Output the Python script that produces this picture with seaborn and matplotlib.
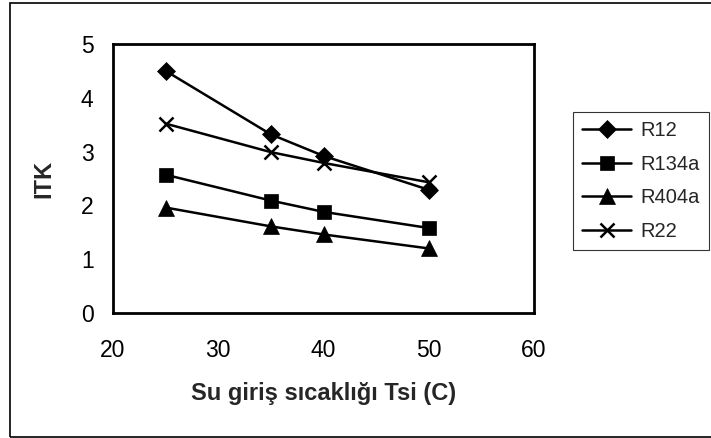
import matplotlib
matplotlib.use("Agg")
import matplotlib.pyplot as plt
import seaborn as sns
import pandas as pd
from matplotlib.patches import Rectangle

temps = [25, 35, 40, 50]
r12 = [4.50, 3.32, 2.92, 2.29]
r134a = [2.57, 2.09, 1.88, 1.58]
r404a = [1.96, 1.61, 1.46, 1.20]
r22 = [3.52, 2.99, 2.79, 2.43]
series_names = ["R12", "R134a", "R404a", "R22"]
xticks = [20, 30, 40, 50, 60]
yticks = [0, 1, 2, 3, 4, 5]

rows = []
for name, vals in zip(series_names, [r12, r134a, r404a, r22]):
    for t, v in zip(temps, vals):
        rows.append({"T": t, "ITK": v, "Seri": name})
df = pd.DataFrame(rows)

sns.set_theme(style="white")
plt.rcParams["font.family"] = ["Liberation Sans", "DejaVu Sans"]

fig = plt.figure(figsize=(7.11, 4.38), dpi=100)
ax = fig.add_axes([113 / 711, 1 - 313 / 438, (534 - 113) / 711, (313 - 44) / 438])

markers = {"R12": "D", "R134a": "s", "R404a": "^", "R22": "x"}
sizes = {"R12": 9, "R134a": 10.5, "R404a": 11, "R22": 10}

for name in series_names:
    sub = df[df["Seri"] == name]
    sns.lineplot(data=sub, x="T", y="ITK", color="black", marker=markers[name],
                 markersize=sizes[name], markeredgecolor="black",
                 markerfacecolor="black",
                 markeredgewidth=1.8 if name == "R22" else 0.5,
                 linewidth=1.8, ax=ax, label=name, legend=False)

ax.set_xlim(20, 60)
ax.set_ylim(0, 5)
ax.set_xticks(xticks)
ax.set_yticks(yticks)
ax.tick_params(axis="both", which="major", direction="out", length=5, width=1,
               colors="black", labelsize=16.5)
ax.tick_params(axis="x", pad=14)
ax.tick_params(axis="y", pad=9)
for s in ax.spines.values():
    s.set_color("black")
    s.set_linewidth(2)
ax.set_xlabel("Su giriş sıcaklığı Tsi (C)", fontsize=17, fontweight="bold", labelpad=14)
ax.set_ylabel("ITK", fontsize=17, fontweight="bold", labelpad=18)
ax.grid(False)

handles = list(ax.lines)
labels = series_names
leg = fig.legend(handles, labels, loc="upper left",
                 bbox_to_anchor=(573 / 711, 1 - 112 / 438),
                 bbox_transform=fig.transFigure,
                 frameon=True, fancybox=False, fontsize=14.5,
                 handlelength=2.45, handletextpad=0.45, labelspacing=0.72,
                 borderpad=0.45, borderaxespad=0)
leg.get_frame().set_edgecolor("black")
leg.get_frame().set_linewidth(0.8)

fig.patches.append(Rectangle((10 / 711, 1.5 / 438), 1.2, 1 - 4.5 / 438,
                             transform=fig.transFigure, fill=False,
                             edgecolor="black", linewidth=1.2))

fig.savefig("out.png", dpi=100)
